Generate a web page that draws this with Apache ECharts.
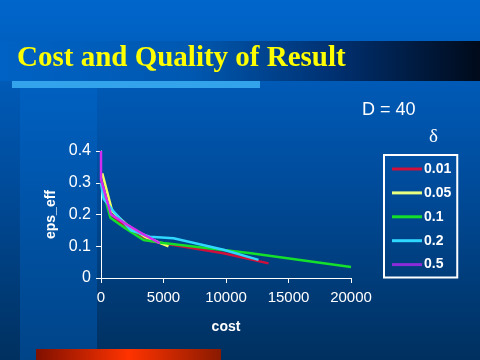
<!DOCTYPE html>
<html><head><meta charset="utf-8">
<script src="https://cdn.jsdelivr.net/npm/echarts@6/dist/echarts.min.js"></script>
<style>html,body{margin:0;padding:0;background:#00509f;}#c{width:480px;height:360px;}</style>
</head><body><div id="c"></div>
<script>
const deltas = ['0.01', '0.05', '0.1', '0.2', '0.5'];
const colors = ['#d0103a', '#f4ff60', '#14e02c', '#30d8ff', '#d22cf0'];
const legendColors = ['#d0103a', '#e8ff80', '#14e02c', '#30d8ff', '#8a2cd8'];
const cost001 = [0, 800, 2000, 3500, 5800, 9800, 13400];
const eps001  = [0.30, 0.20, 0.16, 0.12, 0.104, 0.078, 0.046];
const cost005 = [100, 900, 2000, 3500, 5400];
const eps005  = [0.33, 0.21, 0.17, 0.13, 0.10];
const cost01  = [0, 750, 2000, 3400, 5000, 12000, 20000];
const eps01   = [0.30, 0.19, 0.155, 0.12, 0.11, 0.078, 0.035];
const cost02  = [0, 200, 1000, 2400, 3900, 5800, 9800, 12600];
const eps02   = [0.30, 0.25, 0.21, 0.15, 0.13, 0.125, 0.089, 0.057];
const cost05  = [0, 0, 800, 2000, 3500, 4700];
const eps05   = [0.40, 0.31, 0.20, 0.17, 0.135, 0.11];
const xTicks = [0, 5000, 10000, 15000, 20000];
const yTicks = [0, 0.1, 0.2, 0.3, 0.4];

const costs = [cost001, cost005, cost01, cost02, cost05];
const epss = [eps001, eps005, eps01, eps02, eps05];

const chart = echarts.init(document.getElementById('c'), null, {renderer: 'canvas'});
const series = deltas.map((d, i) => ({
  name: d, type: 'line', showSymbol: false, symbol: 'none',
  data: costs[i].map((c, k) => [c, epss[i][k]]),
  lineStyle: {width: 2.5, color: colors[i]}, itemStyle: {color: colors[i]},
  z: 2 + i, silent: true, animation: false
}));

chart.setOption({
  animation: false,
  graphic: [
    {type: 'rect', z: -10, shape: {x: 0, y: 0, width: 480, height: 360},
     style: {fill: new echarts.graphic.LinearGradient(0, 0, 0, 1, [
       {offset: 0, color: '#0066cc'}, {offset: 0.5, color: '#004c9c'}, {offset: 1, color: '#00305f'}])}},
    {type: 'rect', z: -9, shape: {x: 20, y: 88, width: 77, height: 272},
     style: {fill: new echarts.graphic.LinearGradient(0, 0, 0, 1, [
       {offset: 0, color: '#0060c0'}, {offset: 1, color: '#004488'}])}},
    {type: 'rect', z: -8, shape: {x: 0, y: 41, width: 480, height: 40},
     style: {fill: new echarts.graphic.LinearGradient(0, 0, 1, 0, [
       {offset: 0, color: '#0062c4'}, {offset: 0.4, color: '#0058b0'}, {offset: 0.7, color: '#003070'}, {offset: 1, color: '#000a1a'}])}},
    {type: 'rect', z: -7, shape: {x: 12, y: 81, width: 248, height: 7},
     style: {fill: '#33a4ec'}},
    {type: 'rect', z: -7, shape: {x: 36, y: 349, width: 185, height: 11},
     style: {fill: new echarts.graphic.LinearGradient(0, 0, 1, 0, [
       {offset: 0, color: '#801000'}, {offset: 0.5, color: '#ff3300'}, {offset: 1, color: '#8a1a00'}])}},
    {type: 'text', left: 17, top: 44, z: 5,
     style: {text: 'Cost and Quality of Result', fill: '#ffff00',
       font: 'bold 29px "Liberation Serif", "Times New Roman", serif',
       textShadowColor: '#1a1a1a', textShadowOffsetX: 2, textShadowOffsetY: 2, textShadowBlur: 0}},
    {type: 'text', left: 362, top: 101, z: 5,
     style: {text: 'D = 40', fill: '#ffffff', font: '18px "Liberation Sans", Arial, sans-serif'}},
    {type: 'text', left: 429, top: 128, z: 5,
     style: {text: 'δ', fill: '#ffffff', font: '19px "Liberation Serif", "Times New Roman", serif'}}
  ],
  grid: {left: 101, top: 151, width: 250, height: 127, containLabel: false},
  xAxis: {
    type: 'value', min: 0, max: 20000, interval: 5000,
    name: 'cost', nameLocation: 'middle', nameGap: 42,
    nameTextStyle: {color: '#fff', fontWeight: 'bold', fontSize: 14, fontFamily: '"Liberation Sans", Arial, sans-serif'},
    axisLine: {lineStyle: {color: '#fff', width: 1}},
    axisTick: {show: true, length: 5, lineStyle: {color: '#fff'}},
    axisLabel: {color: '#fff', fontSize: 15, margin: 12, fontFamily: '"Liberation Sans", Arial, sans-serif',
      customValues: xTicks, formatter: v => String(v)},
    splitLine: {show: false}
  },
  yAxis: {
    type: 'value', min: 0, max: 0.4, interval: 0.1,
    name: 'eps_eff', nameLocation: 'middle', nameGap: 40, nameRotate: 90,
    nameTextStyle: {color: '#fff', fontWeight: 'bold', fontSize: 14, fontFamily: '"Liberation Sans", Arial, sans-serif'},
    axisLine: {show: true, lineStyle: {color: '#fff', width: 1}},
    axisTick: {show: true, length: 5, lineStyle: {color: '#fff'}},
    axisLabel: {color: '#fff', fontSize: 16, margin: 10, fontFamily: '"Liberation Sans", Arial, sans-serif',
      customValues: yTicks, formatter: v => String(v)},
    splitLine: {show: false}
  },
  legend: {
    orient: 'vertical', left: 384, top: 155,
    padding: [7, 6, 6, 8], itemGap: 9.9, itemWidth: 30, itemHeight: 3,
    icon: 'rect', borderColor: '#fff', borderWidth: 2,
    textStyle: {color: '#fff', fontWeight: 'bold', fontSize: 14, fontFamily: '"Liberation Sans", Arial, sans-serif', padding: [0, 0, 0, -3]},
    data: deltas.map((d, i) => ({name: d, itemStyle: {color: legendColors[i]}}))
  },
  series: series
});
</script></body></html>
